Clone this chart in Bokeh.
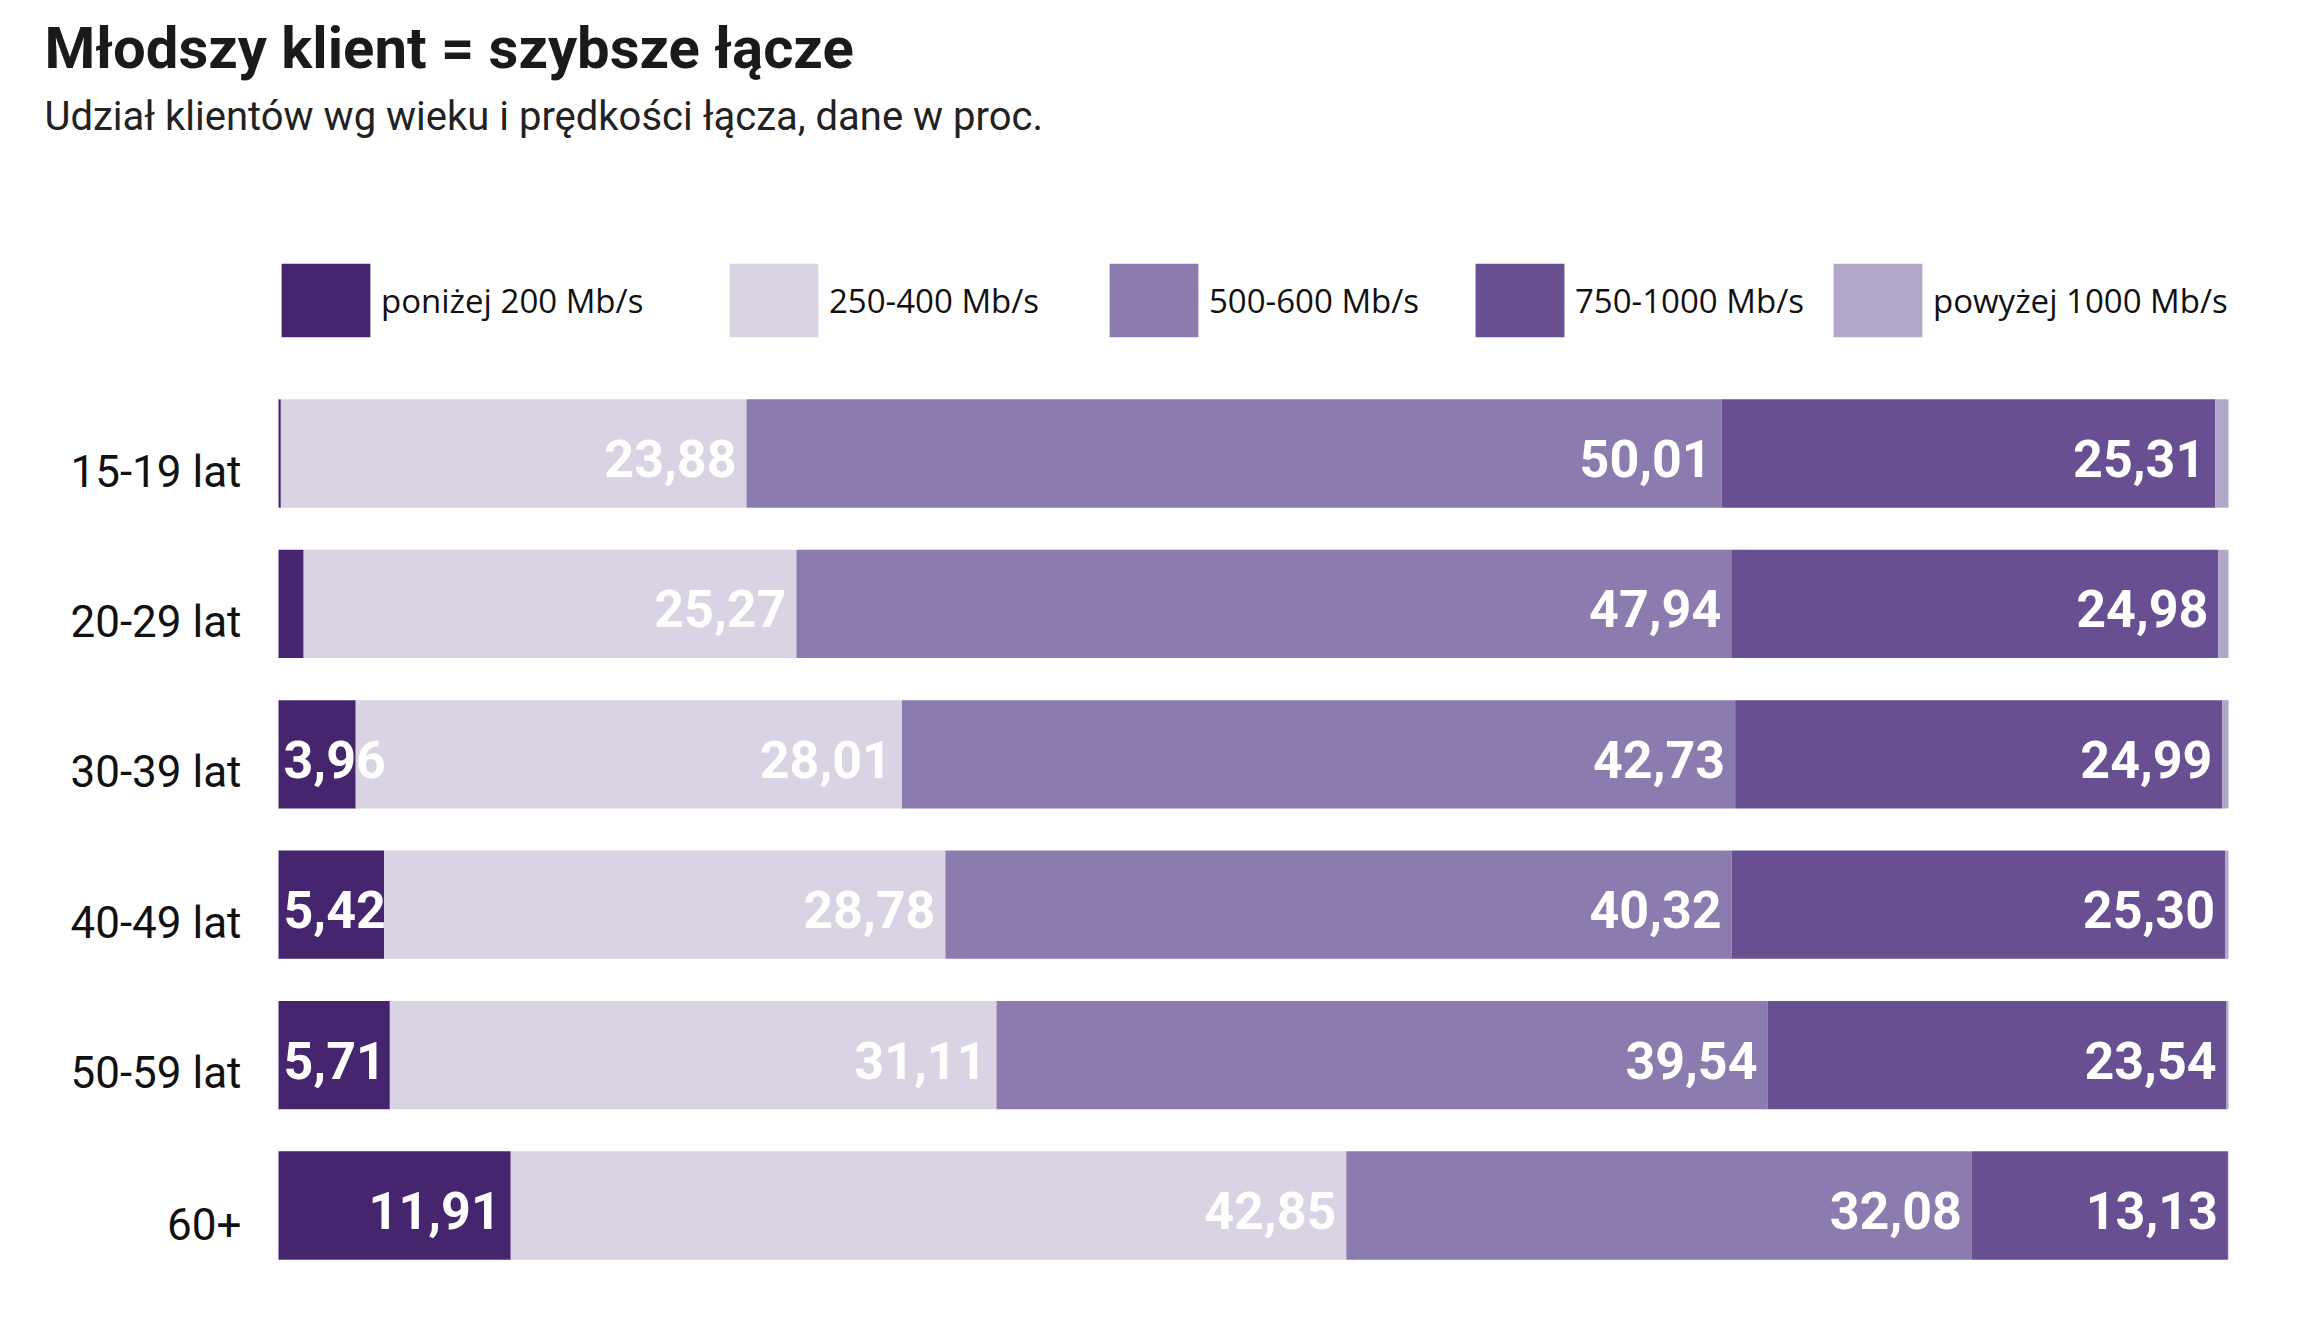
from bokeh.plotting import figure
from bokeh.models import Range1d, ColumnDataSource, Legend, LegendItem, Label
from bokeh.core.properties import value
from bokeh.embed import file_html
from bokeh.resources import INLINE

# ---------------- data ----------------
title = "Młodszy klient = szybsze łącze"
subtitle = "Udział klientów wg wieku i prędkości łącza, dane w proc."
ages = ["15-19 lat", "20-29 lat", "30-39 lat", "40-49 lat", "50-59 lat", "60+"]
speeds = ["poniżej 200 Mb/s", "250-400 Mb/s", "500-600 Mb/s", "750-1000 Mb/s", "powyżej 1000 Mb/s"]
below_200 = [0.12, 1.29, 3.96, 5.42, 5.71, 11.91]
s250_400 = [23.88, 25.27, 28.01, 28.78, 31.11, 42.85]
s500_600 = [50.01, 47.94, 42.73, 40.32, 39.54, 32.08]
s750_1000 = [25.31, 24.98, 24.99, 25.30, 23.54, 13.13]
above_1000 = [0.68, 0.52, 0.31, 0.18, 0.10, 0.03]
colors = ["#46256f", "#d9d3e4", "#8c7bae", "#684f91", "#b2a7c9"]

series = [below_200, s250_400, s500_600, s750_1000, above_1000]
keys = ["s0", "s1", "s2", "s3", "s4"]

# ---------------- layout constants (pixels) ----------------
W, H = 2318, 1322
BAR_LEFT, BAR_RIGHT = 278, 2228       # canvas x of 0 % and 100 %
FIRST_ROW_Y = 453                     # canvas y of first bar centre
ROW = 150.4                           # row pitch in pixels
PX = (BAR_RIGHT - BAR_LEFT) / 100.0   # pixels per percent

x_range = Range1d(-BAR_LEFT / PX, (W - BAR_LEFT) / PX)
y_range = Range1d(-(H - FIRST_ROW_Y) / ROW, FIRST_ROW_Y / ROW)

p = figure(width=W, height=H, x_range=x_range, y_range=y_range,
           output_backend="svg", toolbar_location=None,
           x_axis_location=None, y_axis_location=None, min_border=0)
p.outline_line_color = None
p.xgrid.visible = False
p.ygrid.visible = False
p.background_fill_color = "white"
p.border_fill_color = "white"

rows = [-i for i in range(len(ages))]
data = {"age": ages, "row": rows}
for k, s in zip(keys, series):
    data[k] = s
src = ColumnDataSource(data)

bars = p.hbar_stack(keys, y="row", height=0.72, color=colors, line_color=None, source=src)

# category labels (left of the bars)
p.text(x=0, y="row", text="age", source=src, x_offset=-37, y_offset=18,
       text_align="right", text_baseline="middle",
       text_font=value("Roboto"), text_font_size="44px", text_color="#111111")

# value labels
lx, ly, lt, la, lo = [], [], [], [], []
for i in range(len(ages)):
    cum = 0.0
    for j, s in enumerate(series):
        v = s[i]
        start, end = cum, cum + v
        cum = end
        if j == 4 or v < 3:
            continue
        ly.append(rows[i])
        lt.append(f"{v:.2f}".replace(".", ","))
        if v < 6:
            lx.append(start); la.append("left"); lo.append(5)
        else:
            lx.append(end); la.append("right"); lo.append(-10)
lab = ColumnDataSource(dict(x=lx, y=ly, text=lt, align=la, off=lo))
p.text(x="x", y="y", text="text", source=lab,
       text_align="align", x_offset="off", y_offset=5, text_baseline="middle",
       text_font=value("Roboto"), text_font_style="bold", text_font_size="52px",
       text_color="white")

# title & subtitle (screen units from the canvas bottom-left)
p.add_layout(Label(x=44, y=H - 47, x_units="screen", y_units="screen",
                   text=title, text_font="Roboto", text_font_style="bold",
                   text_font_size="58px", text_color="#1a1a1a", text_baseline="alphabetic"))
p.add_layout(Label(x=44, y=H - 116, x_units="screen", y_units="screen",
                   text=subtitle, text_font="Roboto", text_font_style="normal",
                   text_font_size="40px", text_color="#222222", text_baseline="alphabetic"))

# legend: one legend per item, placed like the reference
# (Bokeh insets the legend swatch by 10 % on each side, so the glyph box is enlarged)
SW, SH = 89, 74
GW, GH = round(SW / 0.8), round(SH / 0.8)
legend_x = [281, 729, 1109, 1475, 1833]
for name, r, lxp in zip(speeds, bars, legend_x):
    lg = Legend(items=[LegendItem(label=name, renderers=[r])],
                location=(lxp - (GW - SW) // 2, H - 337 - (GH - SH) // 2),
                orientation="horizontal", glyph_width=GW, glyph_height=GH,
                label_standoff=6 - (GW - SW) // 2,
                padding=0, margin=0, spacing=0, border_line_color=None, background_fill_alpha=0,
                label_text_font="Open Sans", label_text_font_size="33px",
                label_text_color="#111111", label_height=GH)
    p.add_layout(lg)

open("out.html", "w").write(file_html(p, INLINE))
